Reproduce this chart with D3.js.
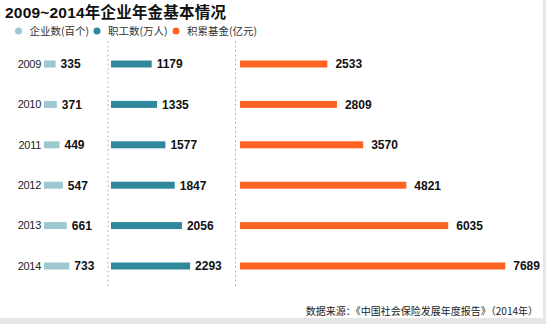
<!DOCTYPE html>
<html>
<head>
<meta charset="utf-8">
<script src="https://cdn.jsdelivr.net/npm/d3@7/dist/d3.min.js"></script>
<style>
  html, body { margin: 0; padding: 0; background: #fff; }
  svg { display: block; }
  text { font-family: "Liberation Sans", Arial, "Noto Sans CJK SC", sans-serif; }
</style>
</head>
<body>
<svg id="chart" width="546" height="324"></svg>
<script>
// 2009–2014 enterprise annuity overview
const years = ["2009", "2010", "2011", "2012", "2013", "2014"];
const companies = [335, 371, 449, 547, 661, 733];        // 企业数(百个)
const workers = [1179, 1335, 1577, 1847, 2056, 2293];     // 职工数(万人)
const funds = [2533, 2809, 3570, 4821, 6035, 7689];       // 积累基金(亿元)
const seriesNames = ["企业数(百个)", "职工数(万人)", "积累基金(亿元)"];
const seriesColors = ["#9dc8d0", "#2f889b", "#fd6322"];

const W = 546, H = 324;
const svg = d3.select("#chart");

// frame shading along right and bottom edges
svg.append("rect").attr("x", 543).attr("y", 0).attr("width", 3).attr("height", H).attr("fill", "#e6e6e6");
svg.append("rect").attr("x", 0).attr("y", 318).attr("width", W).attr("height", 6).attr("fill", "#e6e6e6");

// title
svg.append("text")
  .attr("x", 5).attr("y", 18)
  .attr("font-size", 15.5).attr("font-weight", "bold")
  .attr("letter-spacing", 0.2)
  .attr("fill", "#111")
  .text("2009~2014年企业年金基本情况");

// legend
const legendX = [18.5, 97, 176];
const legend = svg.append("g");
seriesNames.forEach((name, i) => {
  legend.append("circle").attr("cx", legendX[i]).attr("cy", 31).attr("r", 3.5).attr("fill", seriesColors[i]);
  legend.append("text")
    .attr("x", legendX[i] + 11).attr("y", 31).attr("dy", "0.36em")
    .attr("font-size", 10.5).attr("fill", "#333")
    .style("font-family", "'Noto Sans CJK SC', sans-serif")
    .text(name);
});

// shared value scale for all three columns
const x = d3.scaleLinear().domain([0, 8000]).range([0, 276]);
const y = d3.scalePoint().domain(years).range([64, 266]);

// dashed separators between columns
[108, 235.5].forEach(px => {
  svg.append("line")
    .attr("x1", px).attr("x2", px).attr("y1", 41).attr("y2", 287)
    .attr("stroke", "#b8b8b8").attr("stroke-width", 1)
    .attr("stroke-dasharray", "2,2.5");
});

// year labels
svg.append("g").selectAll("text").data(years).join("text")
  .attr("x", 41).attr("y", d => y(d)).attr("dy", "0.35em")
  .attr("text-anchor", "end")
  .attr("font-size", 11).attr("fill", "#222")
  .attr("letter-spacing", -0.3)
  .text(d => d);

const columns = [
  { values: companies, x0: 44, gap: 5, color: seriesColors[0] },
  { values: workers, x0: 111, gap: 5, color: seriesColors[1] },
  { values: funds, x0: 240, gap: 8, color: seriesColors[2] }
];

const barH = 7;
columns.forEach(col => {
  const g = svg.append("g").attr("transform", `translate(${col.x0},0)`);
  const rows = years.map((yr, i) => ({ yr, v: col.values[i] }));
  g.selectAll("rect").data(rows).join("rect")
    .attr("x", 0)
    .attr("y", d => y(d.yr) - barH / 2)
    .attr("width", d => x(d.v))
    .attr("height", barH)
    .attr("fill", col.color);
  g.selectAll("text").data(rows).join("text")
    .attr("x", d => x(d.v) + col.gap)
    .attr("y", d => y(d.yr)).attr("dy", "0.36em")
    .attr("font-size", 12).attr("font-weight", "bold")
    .attr("fill", "#111")
    .text(d => d.v);
});

// source note
svg.append("text")
  .attr("x", 538).attr("y", 315)
  .attr("text-anchor", "end")
  .attr("font-size", 10).attr("fill", "#222")
  .style("font-family", "'Noto Sans CJK SC', sans-serif")
  .text("数据来源：《中国社会保险发展年度报告》（2014年）");
</script>
</body>
</html>
